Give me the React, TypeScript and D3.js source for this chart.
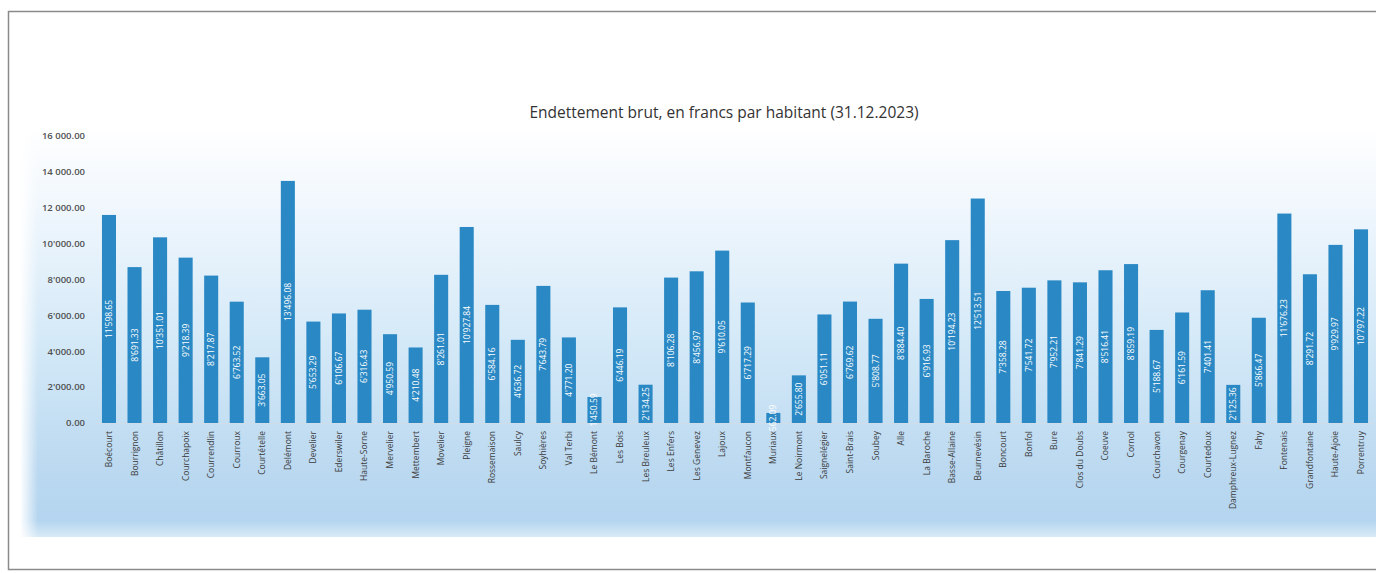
import React from "react";
import * as d3 from "d3";

const communes: string[] = [
  "Boécourt", "Bourrignon", "Châtillon", "Courchapoix", "Courrendlin", "Courroux", "Courtételle",
  "Delémont", "Develier", "Ederswiler", "Haute-Sorne", "Mervelier", "Mettembert", "Movelier",
  "Pleigne", "Rossemaison", "Saulcy", "Soyhières", "Val Terbi", "Le Bémont", "Les Bois",
  "Les Breuleux", "Les Enfers", "Les Genevez", "Lajoux", "Montfaucon", "Muriaux", "Le Noirmont",
  "Saignelégier", "Saint-Brais", "Soubey", "Alle", "La Baroche", "Basse-Allaine", "Beurnevésin",
  "Boncourt", "Bonfol", "Bure", "Clos du Doubs", "Coeuve", "Cornol", "Courchavon", "Courgenay",
  "Courtedoux", "Damphreux-Lugnez", "Fahy", "Fontenais", "Grandfontaine", "Haute-Ajoie", "Porrentruy",
];

const debtPerInhabitant: number[] = [
  11598.65, 8691.33, 10351.01, 9218.39, 8217.87, 6763.52, 3663.05,
  13496.08, 5653.29, 6106.67, 6316.43, 4950.59, 4210.48, 8261.01,
  10927.84, 6584.16, 4636.72, 7643.79, 4771.2, 1450.59, 6446.19,
  2134.25, 8106.28, 8456.97, 9610.05, 6717.29, 562.09, 2655.8,
  6051.11, 6769.62, 5808.77, 8884.4, 6916.93, 10194.23, 12513.51,
  7358.28, 7541.72, 7952.21, 7841.29, 8516.41, 8859.19, 5188.67, 6161.59,
  7401.41, 2125.36, 5866.47, 11676.23, 8291.72, 9929.97, 10797.22,
];

const yTicks: number[] = [0, 2000, 4000, 6000, 8000, 10000, 12000, 14000, 16000];
const yTickLabels: string[] = [
  "0.00", "2'000.00", "4'000.00", "6'000.00", "8'000.00", "10'000.00", "12 000.00", "14 000.00", "16 000.00",
];

const title = "Endettement brut, en francs par habitant (31.12.2023)";

const W = 1376;
const H = 573;
const FONT = "'Open Sans', 'Liberation Sans', sans-serif";

function fmt(v: number): string {
  const s = v.toFixed(2);
  const [i, d] = s.split(".");
  const withSep = i.replace(/\B(?=(\d{3})+(?!\d))/g, "'");
  return `${withSep}.${d}`;
}

export default function App() {
  const x = d3.scaleBand<string>().domain(communes).range([96.2, 1373.8]).paddingInner(0.45).paddingOuter(0.225);
  const y = d3.scaleLinear().domain([0, 16000]).range([423, 136]);

  return (
    <svg
      width={W}
      height={H}
      viewBox={`0 0 ${W} ${H}`}
      style={{ position: "fixed", left: 0, top: 0, background: "#fff" }}
    >
      <defs>
        <linearGradient id="bgV" x1="0" y1="0" x2="0" y2="1">
          <stop offset="0" stopColor="#ffffff" />
          <stop offset="0.2" stopColor="#f0f7fd" />
          <stop offset="0.55" stopColor="#d2e8f7" />
          <stop offset="0.85" stopColor="#bad8f0" />
          <stop offset="0.96" stopColor="#b4d5ef" />
          <stop offset="1" stopColor="#d8eaf7" />
        </linearGradient>
        <linearGradient id="fadeL" x1="0" y1="0" x2="1" y2="0">
          <stop offset="0" stopColor="#fff" stopOpacity="1" />
          <stop offset="1" stopColor="#fff" stopOpacity="0" />
        </linearGradient>
      </defs>

      {/* outer frame */}
      <rect x={8.5} y={11.5} width={W} height={558} fill="#fff" stroke="#8a8a8a" strokeWidth={1.5} />

      {/* background picture-like gradient */}
      <rect x={20} y={125} width={W - 20} height={412} fill="url(#bgV)" />
      <rect x={20} y={125} width={18} height={412} fill="url(#fadeL)" />

      {/* title */}
      <text x={724} y={118} textAnchor="middle" fontFamily={FONT} fontSize={15.5} fill="#333333">
        {title}
      </text>

      {/* y axis labels */}
      {yTicks.map((t, i) => (
        <text
          key={t}
          x={85}
          y={y(t)}
          dy="0.35em"
          textAnchor="end"
          fontFamily={FONT}
          fontSize={9.5}
          fill="#505050"
          fontWeight={600}
        >
          {yTickLabels[i]}
        </text>
      ))}

      {/* x axis line */}
      <line x1={96} x2={1374} y1={y(0) + 0.5} y2={y(0) + 0.5} stroke="#d0dde8" strokeWidth={1} />

      {/* bars */}
      {communes.map((c, i) => {
        const v = debtPerInhabitant[i];
        const bx = x(c)!;
        const bw = x.bandwidth();
        return (
          <rect key={c} x={bx} y={y(v)} width={bw} height={y(0) - y(v)} fill="#2a88c4" />
        );
      })}

      {/* value labels */}
      {communes.map((c, i) => {
        const v = debtPerInhabitant[i];
        const cx = x(c)! + x.bandwidth() / 2;
        const cy = (y(v) + y(0)) / 2;
        return (
          <text
            key={c}
            transform={`translate(${cx},${cy}) rotate(-90)`}
            textAnchor="middle"
            dy="0.35em"
            fontFamily={FONT}
            fontSize={8.5}
            fill="#ffffff"
          >
            {fmt(v)}
          </text>
        );
      })}

      {/* category labels */}
      {communes.map((c) => {
        const cx = x(c)! + x.bandwidth() / 2;
        return (
          <text
            key={c}
            transform={`translate(${cx},${y(0) + 8}) rotate(-90)`}
            textAnchor="end"
            dy="0.35em"
            fontFamily={FONT}
            fontSize={8.5}
            fill="#3a3a3a"
          >
            {c}
          </text>
        );
      })}
    </svg>
  );
}
